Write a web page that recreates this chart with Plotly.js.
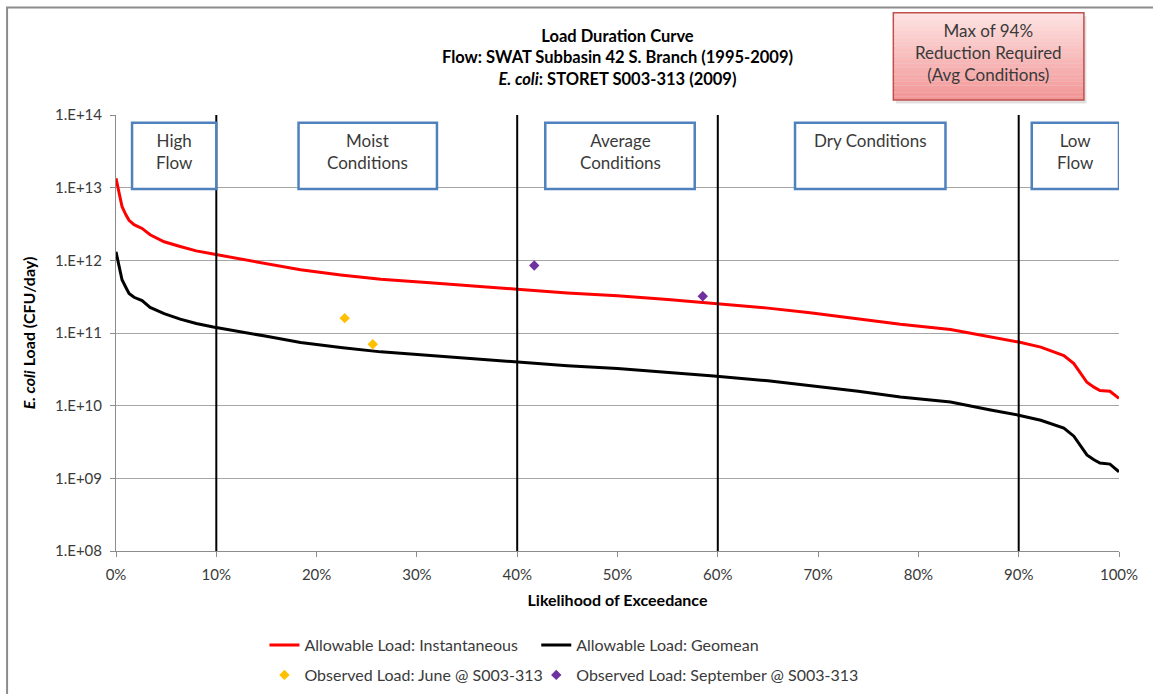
<!DOCTYPE html>
<html>
<head>
<meta charset="utf-8">
<script src="https://cdn.plot.ly/plotly-3.0.1.min.js"></script>
<style>html,body{margin:0;padding:0;background:#fff;}#chart{width:1153px;height:694px;}</style>
</head>
<body>
<div id="chart"></div>
<script>
// Likelihood of exceedance (%)
const exceedPct = [0, 0.3, 0.6, 1.0, 1.3, 1.8, 2.6, 3.4, 4.8, 6.4, 8, 9.7, 12, 15, 18.4, 22.4, 26.4, 31.3, 36.3, 40, 45, 50, 55, 59.6, 65, 69.2, 74, 78.2, 83.2, 87.2, 90, 92.2, 94.5, 95.5, 96.8, 97.5, 98.1, 99.1, 100];
// Allowable Load: Instantaneous (CFU/day)
const instLoad = [1.35e13, 8.9e12, 5.5e12, 4.2e12, 3.55e12, 3.1e12, 2.75e12, 2.25e12, 1.8e12, 1.55e12, 1.35e12, 1.22e12, 1.07e12, 9.1e11, 7.4e11, 6.3e11, 5.5e11, 4.9e11, 4.4e11, 4.0e11, 3.55e11, 3.25e11, 2.9e11, 2.55e11, 2.2e11, 1.9e11, 1.58e11, 1.32e11, 1.12e11, 8.8e10, 7.5e10, 6.4e10, 4.9e10, 3.8e10, 2.1e10, 1.8e10, 1.62e10, 1.58e10, 1.26e10];
// Allowable Load: Geomean (CFU/day)
const geoLoad = [1.31e12, 8.8e11, 5.4e11, 4.2e11, 3.5e11, 3.1e11, 2.8e11, 2.25e11, 1.85e11, 1.55e11, 1.35e11, 1.21e11, 1.07e11, 9.0e10, 7.4e10, 6.3e10, 5.5e10, 4.9e10, 4.4e10, 4.0e10, 3.55e10, 3.25e10, 2.9e10, 2.55e10, 2.2e10, 1.9e10, 1.58e10, 1.32e10, 1.12e10, 8.7e9, 7.4e9, 6.3e9, 4.9e9, 3.8e9, 2.1e9, 1.8e9, 1.62e9, 1.57e9, 1.23e9];
// Observed loads
const junePct = [22.8, 25.6];
const juneLoad = [1.6e11, 7.0e10];
const sepPct = [41.7, 58.5];
const sepLoad = [8.5e11, 3.2e11];
// Flow regime dividers (%)
const dividers = [10, 40, 60, 90];
// Flow regime labels and box extents (%)
const zoneLabels = ["High<br>Flow", "Moist<br>Conditions", "Average<br>Conditions", "Dry Conditions", "Low<br>Flow"];
const zoneStart = [1.6, 18.2, 42.8, 67.7, 91.3];
const zoneEnd = [10.0, 32.0, 57.7, 82.7, 100];
// Y ticks
const yTickVals = [1e8, 1e9, 1e10, 1e11, 1e12, 1e13, 1e14];
const yTickText = ["1.E+08", "1.E+09", "1.E+10", "1.E+11", "1.E+12", "1.E+13", "1.E+14"];
const xTickVals = [0, 10, 20, 30, 40, 50, 60, 70, 80, 90, 100];
const xTickText = xTickVals.map(v => v + "%");

const FONT = "Lato, 'Open Sans', sans-serif";
const TXT = "#3a3a3a";

const traces = [
  {x: exceedPct, y: instLoad, type: "scatter", mode: "lines", name: "Allowable Load: Instantaneous",
   line: {color: "#ff0000", width: 3}, legend: "legend", hoverinfo: "skip"},
  {x: exceedPct, y: geoLoad, type: "scatter", mode: "lines", name: "Allowable Load: Geomean",
   line: {color: "#000000", width: 3}, legend: "legend2", hoverinfo: "skip"},
  {x: junePct, y: juneLoad, type: "scatter", mode: "markers", name: "Observed Load: June @ S003-313",
   marker: {symbol: "diamond", color: "#ffc000", size: 8}, legend: "legend3"},
  {x: sepPct, y: sepLoad, type: "scatter", mode: "markers", name: "Observed Load: September @ S003-313",
   marker: {symbol: "diamond", color: "#7030a0", size: 8}, legend: "legend4"}
];

const shapes = [];
const annotations = [];
// outer chart frame (left and top visible)
shapes.push({type: "rect", xref: "paper", yref: "paper", x0: -0.1086, x1: 1.2, y0: 1.2466, y1: -0.5,
  line: {color: "#8c8c8c", width: 2}, fillcolor: "rgba(0,0,0,0)", layer: "below"});
dividers.forEach(d => shapes.push({type: "line", xref: "x", yref: "paper", x0: d, x1: d, y0: 0, y1: 1,
  line: {color: "#000", width: 2}}));
zoneLabels.forEach((lab, i) => {
  shapes.push({type: "rect", xref: "x", yref: "paper", x0: zoneStart[i], x1: zoneEnd[i], y0: 0.830, y1: 0.982,
    line: {color: "#4f81bd", width: 2.5}, fillcolor: "#ffffff"});
  annotations.push({xref: "x", yref: "paper", x: (zoneStart[i] + zoneEnd[i]) / 2, y: 0.970, yanchor: "top",
    text: lab, showarrow: false, font: {family: FONT, size: 17, color: TXT}});
});
// reduction callout box with vertical gradient
const bx0 = 77.5, bx1 = 96.5, by0 = 1.0344, by1 = 1.2346, nb = 24;
shapes.push({type: "rect", xref: "x", yref: "paper", x0: bx0 + 0.25, x1: bx1 + 0.25, y0: by0 - 0.008, y1: by1 - 0.008,
  line: {width: 0}, fillcolor: "rgba(0,0,0,0.12)"});
for (let k = 0; k < nb; k++) {
  const t = k / (nb - 1);
  const g = Math.round(226 - t * (226 - 150));
  const r = Math.round(255 - t * 12);
  shapes.push({type: "rect", xref: "x", yref: "paper", x0: bx0, x1: bx1,
    y1: by1 - (by1 - by0) * k / nb, y0: by1 - (by1 - by0) * (k + 1) / nb,
    line: {width: 0}, fillcolor: `rgb(${r},${g},${g})`});
}
shapes.push({type: "rect", xref: "x", yref: "paper", x0: bx0, x1: bx1, y0: by0, y1: by1,
  line: {color: "#c0504d", width: 1.5}, fillcolor: "rgba(0,0,0,0)"});
annotations.push({xref: "x", yref: "paper", x: (bx0 + bx1) / 2, y: (by0 + by1) / 2 + 0.008, yanchor: "middle",
  text: "Max of 94%<br>Reduction Required<br>(Avg Conditions)", showarrow: false,
  font: {family: FONT, size: 17, color: TXT}});

function leg(x, y) {
  return {orientation: "h", x: x, xanchor: "left", yref: "container", y: y, yanchor: "middle",
    font: {family: FONT, size: 16, color: TXT}, bgcolor: "rgba(0,0,0,0)", itemwidth: 30};
}

const layout = {
  width: 1153, height: 694,
  margin: {l: 116, r: 34, t: 115, b: 143},
  paper_bgcolor: "#ffffff", plot_bgcolor: "#ffffff",
  font: {family: FONT, color: TXT},
  title: {text: "<b>Load Duration Curve<br>Flow: SWAT Subbasin 42 S. Branch (1995-2009)<br><i>E. coli</i>: STORET S003-313 (2009)</b>",
    xref: "paper", x: 0.5, xanchor: "center", y: 0.9395, yanchor: "middle", font: {family: FONT, size: 16.5, color: "#000"}},
  xaxis: {range: [0, 100], tickvals: xTickVals, ticktext: xTickText, showgrid: false, zeroline: false,
    showline: true, linecolor: "#8c8c8c", linewidth: 1, ticks: "outside", ticklen: 5, tickcolor: "#8c8c8c",
    ticklabelstandoff: 5,
    tickfont: {family: FONT, size: 15, color: TXT},
    title: {text: "<b>Likelihood of Exceedance</b>", font: {family: FONT, size: 16, color: "#000"}, standoff: 12}},
  yaxis: {type: "log", range: [8, 14], tickvals: yTickVals, ticktext: yTickText, showgrid: true,
    gridcolor: "#a6a6a6", gridwidth: 1, zeroline: false, showline: true, linecolor: "#8c8c8c", linewidth: 1,
    ticks: "outside", ticklen: 5, tickcolor: "#8c8c8c", ticklabelstandoff: 5,
    tickfont: {family: FONT, size: 15, color: TXT},
    title: {text: "<b><i>E. coli</i> Load (CFU/day)</b>", font: {family: FONT, size: 16, color: "#000"}, standoff: 15}},
  showlegend: true,
  legend: leg(0.148, 0.0706),
  legend2: leg(0.419, 0.0706),
  legend3: leg(0.148, 0.0274),
  legend4: leg(0.419, 0.0274),
  shapes: shapes,
  annotations: annotations
};

Plotly.newPlot("chart", traces, layout, {displayModeBar: false, staticPlot: true});
</script>
</body>
</html>
